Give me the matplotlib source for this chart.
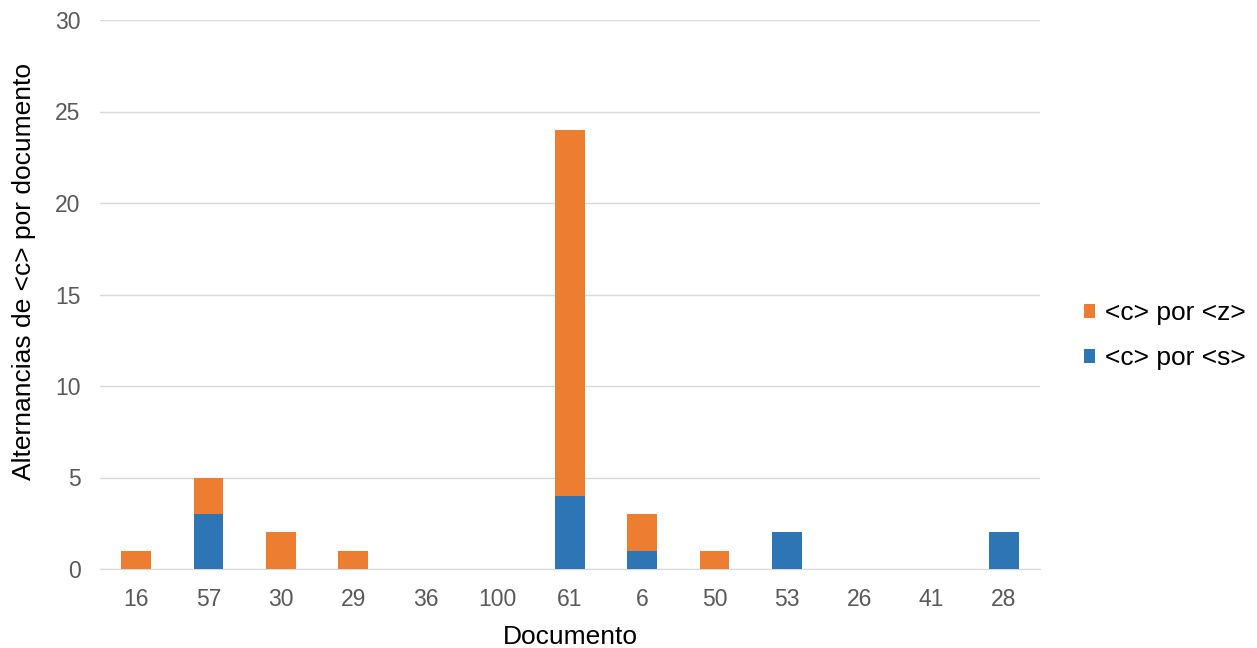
import matplotlib
matplotlib.use("Agg")
import matplotlib.pyplot as plt
import numpy as np

plt.rcParams['font.family'] = ['Liberation Sans', 'DejaVu Sans']

documentos = ["16", "57", "30", "29", "36", "100", "61", "6", "50", "53", "26", "41", "28"]
c_por_s = [0, 3, 0, 0, 0, 0, 4, 1, 0, 2, 0, 0, 2]
c_por_z = [1, 2, 2, 1, 0, 0, 20, 2, 1, 0, 0, 0, 0]

fig = plt.figure(figsize=(12.57, 6.48), dpi=100)
ax = fig.add_axes([100/1257, 79/648, 940/1257, 549/648])

x = np.arange(len(documentos))
w = 0.41
ax.bar(x, c_por_s, w, color='#2E75B6', label='<c> por <s>', zorder=3)
ax.bar(x, c_por_z, w, bottom=c_por_s, color='#ED7D31', label='<c> por <z>', zorder=3)

ax.set_xlim(-0.5, len(documentos) - 0.5)
ax.set_ylim(0, 30)
ax.set_yticks(range(0, 31, 5))
ax.set_xticks(x)
ax.set_xticklabels(documentos)
ax.yaxis.grid(True, color='#D9D9D9', linewidth=1, zorder=0)
for s in ['top', 'right', 'left']:
    ax.spines[s].set_visible(False)
ax.spines['bottom'].set_color('#D9D9D9')
ax.tick_params(axis='both', length=0, labelsize=16.5, colors='#595959')
ax.tick_params(axis='y', pad=14)
ax.tick_params(axis='x', pad=14)
ax.set_xlabel('Documento', fontsize=19, color='#000000', labelpad=10)
ax.set_ylabel('Alternancias de <c> por documento', fontsize=19, color='#000000')
ax.yaxis.set_label_coords(-64/940, 0.541)

handles, labels = ax.get_legend_handles_labels()
leg = fig.legend(handles[::-1], labels[::-1], loc='center left', bbox_to_anchor=(1084/1257, 0.482),
                 frameon=False, fontsize=19, handlelength=0.42, handleheight=0.42,
                 handletextpad=0.36, labelspacing=0.8, borderpad=0, borderaxespad=0)
for t in leg.get_texts():
    t.set_color('#000000')

fig.savefig('out.png', dpi=100)
